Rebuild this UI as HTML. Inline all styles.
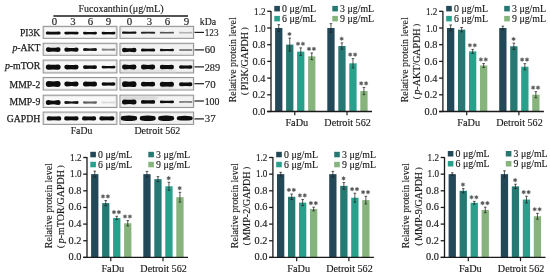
<!DOCTYPE html>
<html><head><meta charset="utf-8"><style>
html,body{margin:0;padding:0;background:#fff;}
svg{display:block;filter:blur(0.3px);}
text{font-family:"Liberation Serif", serif;stroke:#1a1a1a;stroke-width:0.15px;}
text.b{stroke-width:0.25px;}
</style></head><body>
<svg width="550" height="275" viewBox="0 0 550 275">
<defs><filter id="bl2" x="-20%" y="-100%" width="140%" height="300%"><feGaussianBlur stdDeviation="0.8"/></filter><filter id="bl" x="-20%" y="-100%" width="140%" height="300%"><feGaussianBlur stdDeviation="0.45"/></filter></defs>
<rect width="550" height="275" fill="#fff"/>
<text x="78.5" y="11.6" font-size="10.8" text-anchor="start" textLength="49.8" lengthAdjust="spacingAndGlyphs" fill="#1a1a1a" >Fucoxanthin</text>
<text x="129.3" y="11.6" font-size="10.8" text-anchor="start" textLength="34.3" lengthAdjust="spacingAndGlyphs" fill="#1a1a1a" >(μg/mL)</text>
<line x1="53.40" y1="16.00" x2="188.00" y2="16.00" stroke="#1a1a1a" stroke-width="1.3" />
<text x="54.35" y="25.0" font-size="10.8" text-anchor="middle" fill="#1a1a1a" >0</text>
<text x="73.05" y="25.0" font-size="10.8" text-anchor="middle" fill="#1a1a1a" >3</text>
<text x="90.5" y="25.0" font-size="10.8" text-anchor="middle" fill="#1a1a1a" >6</text>
<text x="108.5" y="25.0" font-size="10.8" text-anchor="middle" fill="#1a1a1a" >9</text>
<text x="129.5" y="25.0" font-size="10.8" text-anchor="middle" fill="#1a1a1a" >0</text>
<text x="149.5" y="25.0" font-size="10.8" text-anchor="middle" fill="#1a1a1a" >3</text>
<text x="167.5" y="25.0" font-size="10.8" text-anchor="middle" fill="#1a1a1a" >6</text>
<text x="186.5" y="25.0" font-size="10.8" text-anchor="middle" fill="#1a1a1a" >9</text>
<text x="199.8" y="24.7" font-size="10.8" text-anchor="start" textLength="16.4" lengthAdjust="spacingAndGlyphs" fill="#1a1a1a" >kDa</text>
<text x="40.3" y="35.7" font-size="10.8" text-anchor="end" textLength="20.299999999999997" lengthAdjust="spacingAndGlyphs" fill="#1a1a1a" class="b">PI3K</text>
<rect x="43.20" y="26.35" width="73.70" height="12.00" fill="#f8f8f8" stroke="#959595" stroke-width="1.1"/>
<rect x="44.40" y="27.55" width="71.30" height="9.60" fill="none" stroke="#e2e2e2" stroke-width="0.6"/>
<rect x="120.00" y="26.35" width="73.60" height="12.00" fill="#f2f2f2" stroke="#959595" stroke-width="1.1"/>
<rect x="121.20" y="27.55" width="71.20" height="9.60" fill="none" stroke="#e2e2e2" stroke-width="0.6"/>
<line x1="194.50" y1="32.40" x2="204.00" y2="32.40" stroke="#1a1a1a" stroke-width="1.2" />
<text x="204.7" y="35.7" font-size="10.8" text-anchor="start" textLength="13.8" lengthAdjust="spacingAndGlyphs" fill="#1a1a1a" >123</text>
<text x="40.3" y="51.2" font-size="10.8" text-anchor="end" textLength="27.9" lengthAdjust="spacingAndGlyphs" fill="#1a1a1a" class="b"><tspan font-style="italic">p</tspan>-AKT</text>
<rect x="43.20" y="43.30" width="73.70" height="11.95" fill="#f8f8f8" stroke="#959595" stroke-width="1.1"/>
<rect x="44.40" y="44.50" width="71.30" height="9.55" fill="none" stroke="#e2e2e2" stroke-width="0.6"/>
<rect x="120.00" y="43.30" width="73.60" height="11.95" fill="#f2f2f2" stroke="#959595" stroke-width="1.1"/>
<rect x="121.20" y="44.50" width="71.20" height="9.55" fill="none" stroke="#e2e2e2" stroke-width="0.6"/>
<line x1="194.50" y1="49.90" x2="204.00" y2="49.90" stroke="#1a1a1a" stroke-width="1.2" />
<text x="204.7" y="53.4" font-size="10.8" text-anchor="start" textLength="10.6" lengthAdjust="spacingAndGlyphs" fill="#1a1a1a" >60</text>
<text x="40.3" y="69.4" font-size="10.8" text-anchor="end" textLength="35.4" lengthAdjust="spacingAndGlyphs" fill="#1a1a1a" class="b"><tspan font-style="italic">p</tspan>-mTOR</text>
<rect x="43.20" y="60.10" width="73.70" height="12.80" fill="#f8f8f8" stroke="#959595" stroke-width="1.1"/>
<rect x="44.40" y="61.30" width="71.30" height="10.40" fill="none" stroke="#e2e2e2" stroke-width="0.6"/>
<rect x="120.00" y="60.10" width="73.60" height="12.80" fill="#f2f2f2" stroke="#959595" stroke-width="1.1"/>
<rect x="121.20" y="61.30" width="71.20" height="10.40" fill="none" stroke="#e2e2e2" stroke-width="0.6"/>
<line x1="194.50" y1="66.90" x2="204.00" y2="66.90" stroke="#1a1a1a" stroke-width="1.2" />
<text x="204.7" y="70.5" font-size="10.8" text-anchor="start" textLength="15.4" lengthAdjust="spacingAndGlyphs" fill="#1a1a1a" >289</text>
<text x="40.3" y="87.7" font-size="10.8" text-anchor="end" textLength="30.699999999999996" lengthAdjust="spacingAndGlyphs" fill="#1a1a1a" class="b">MMP-2</text>
<rect x="43.20" y="77.50" width="73.70" height="12.50" fill="#f8f8f8" stroke="#959595" stroke-width="1.1"/>
<rect x="44.40" y="78.70" width="71.30" height="10.10" fill="none" stroke="#e2e2e2" stroke-width="0.6"/>
<rect x="120.00" y="77.50" width="73.60" height="12.50" fill="#f2f2f2" stroke="#959595" stroke-width="1.1"/>
<rect x="121.20" y="78.70" width="71.20" height="10.10" fill="none" stroke="#e2e2e2" stroke-width="0.6"/>
<line x1="194.50" y1="83.70" x2="204.00" y2="83.70" stroke="#1a1a1a" stroke-width="1.2" />
<text x="204.7" y="87.5" font-size="10.8" text-anchor="start" textLength="10.9" lengthAdjust="spacingAndGlyphs" fill="#1a1a1a" >70</text>
<text x="40.3" y="105.0" font-size="10.8" text-anchor="end" textLength="30.699999999999996" lengthAdjust="spacingAndGlyphs" fill="#1a1a1a" class="b">MMP-9</text>
<rect x="43.20" y="95.20" width="73.70" height="12.30" fill="#f8f8f8" stroke="#959595" stroke-width="1.1"/>
<rect x="44.40" y="96.40" width="71.30" height="9.90" fill="none" stroke="#e2e2e2" stroke-width="0.6"/>
<rect x="120.00" y="95.20" width="73.60" height="12.30" fill="#f2f2f2" stroke="#959595" stroke-width="1.1"/>
<rect x="121.20" y="96.40" width="71.20" height="9.90" fill="none" stroke="#e2e2e2" stroke-width="0.6"/>
<line x1="194.50" y1="101.00" x2="204.00" y2="101.00" stroke="#1a1a1a" stroke-width="1.2" />
<text x="204.7" y="104.9" font-size="10.8" text-anchor="start" textLength="14.8" lengthAdjust="spacingAndGlyphs" fill="#1a1a1a" >100</text>
<text x="40.3" y="121.7" font-size="10.8" text-anchor="end" textLength="33.5" lengthAdjust="spacingAndGlyphs" fill="#1a1a1a" class="b">GAPDH</text>
<rect x="43.20" y="112.10" width="73.70" height="12.30" fill="#f8f8f8" stroke="#959595" stroke-width="1.1"/>
<rect x="44.40" y="113.30" width="71.30" height="9.90" fill="none" stroke="#e2e2e2" stroke-width="0.6"/>
<rect x="120.00" y="112.10" width="73.60" height="12.30" fill="#f2f2f2" stroke="#959595" stroke-width="1.1"/>
<rect x="121.20" y="113.30" width="71.20" height="9.90" fill="none" stroke="#e2e2e2" stroke-width="0.6"/>
<line x1="194.50" y1="118.90" x2="204.00" y2="118.90" stroke="#1a1a1a" stroke-width="1.2" />
<text x="204.7" y="122.2" font-size="10.8" text-anchor="start" textLength="10.9" lengthAdjust="spacingAndGlyphs" fill="#1a1a1a" >37</text>
<text x="70.7" y="133.6" font-size="10.8" text-anchor="start" textLength="21.6" lengthAdjust="spacingAndGlyphs" fill="#1a1a1a" >FaDu</text>
<text x="134.4" y="133.6" font-size="10.8" text-anchor="start" textLength="45.8" lengthAdjust="spacingAndGlyphs" fill="#1a1a1a" >Detroit 562</text>
<rect x="122" y="69.4" width="54" height="2.4" rx="1" fill="#dcdcdc" filter="url(#bl2)"/>
<rect x="121.5" y="96.6" width="36" height="3.2" rx="1" fill="#d6d6d6" filter="url(#bl2)"/>
<rect x="47" y="44.8" width="30" height="2.0" rx="1" fill="#e4e4e4" filter="url(#bl2)"/>
<rect x="160" y="87.2" width="14" height="1.6" rx="1" fill="#d0d0d0" filter="url(#bl2)"/>
<path d="M47.30,31.60 Q53.20,32.00 59.10,31.60 A1.50,1.50 0 0 1 59.10,34.60 Q53.20,34.20 47.30,34.60 A1.50,1.50 0 0 1 47.30,31.60Z" fill="rgb(10,10,10)" filter="url(#bl)"/>
<path d="M65.75,31.65 Q71.45,32.05 77.15,31.65 A1.45,1.45 0 0 1 77.15,34.55 Q71.45,34.15 65.75,34.55 A1.45,1.45 0 0 1 65.75,31.65Z" fill="rgb(10,10,10)" filter="url(#bl)"/>
<path d="M84.40,31.70 Q90.00,32.10 95.60,31.70 A1.40,1.40 0 0 1 95.60,34.50 Q90.00,34.10 84.40,34.50 A1.40,1.40 0 0 1 84.40,31.70Z" fill="rgb(10,10,10)" filter="url(#bl)"/>
<path d="M102.95,31.75 Q108.50,32.15 114.05,31.75 A1.35,1.35 0 0 1 114.05,34.45 Q108.50,34.05 102.95,34.45 A1.35,1.35 0 0 1 102.95,31.75Z" fill="rgb(17,17,17)" filter="url(#bl)"/>
<path d="M123.10,31.60 Q129.25,31.90 135.40,31.60 A1.10,1.10 0 0 1 135.40,33.80 Q129.25,33.50 123.10,33.80 A1.10,1.10 0 0 1 123.10,31.60Z" fill="rgb(10,10,10)" filter="url(#bl)"/>
<path d="M141.90,31.70 Q148.05,32.00 154.20,31.70 A1.00,1.00 0 0 1 154.20,33.70 Q148.05,33.40 141.90,33.70 A1.00,1.00 0 0 1 141.90,31.70Z" fill="rgb(39,39,39)" filter="url(#bl)"/>
<path d="M160.70,31.80 Q166.90,32.00 173.10,31.80 A0.90,0.90 0 0 1 173.10,33.60 Q166.90,33.40 160.70,33.60 A0.90,0.90 0 0 1 160.70,31.80Z" fill="rgb(84,84,84)" filter="url(#bl)"/>
<path d="M179.85,31.85 Q185.70,32.05 191.55,31.85 A0.85,0.85 0 0 1 191.55,33.55 Q185.70,33.35 179.85,33.55 A0.85,0.85 0 0 1 179.85,31.85Z" fill="rgb(177,177,177)" filter="url(#bl)"/>
<path d="M48.20,47.20 Q53.20,48.40 58.20,47.20 A2.40,2.40 0 0 1 58.20,52.00 Q53.20,50.80 48.20,52.00 A2.40,2.40 0 0 1 48.20,47.20Z" fill="rgb(10,10,10)" filter="url(#bl)"/>
<path d="M66.50,47.40 Q71.45,48.40 76.40,47.40 A2.20,2.20 0 0 1 76.40,51.80 Q71.45,50.80 66.50,51.80 A2.20,2.20 0 0 1 66.50,47.40Z" fill="rgb(10,10,10)" filter="url(#bl)"/>
<path d="M84.50,48.10 Q90.00,49.00 95.50,48.10 A1.50,1.50 0 0 1 95.50,51.10 Q90.00,50.20 84.50,51.10 A1.50,1.50 0 0 1 84.50,48.10Z" fill="rgb(22,22,22)" filter="url(#bl)"/>
<path d="M102.80,48.40 Q108.50,49.00 114.20,48.40 A1.20,1.20 0 0 1 114.20,50.80 Q108.50,50.20 102.80,50.80 A1.20,1.20 0 0 1 102.80,48.40Z" fill="rgb(132,132,132)" filter="url(#bl)"/>
<path d="M124.20,47.80 Q129.25,48.80 134.30,47.80 A2.20,2.20 0 0 1 134.30,52.20 Q129.25,51.20 124.20,52.20 A2.20,2.20 0 0 1 124.20,47.80Z" fill="rgb(10,10,10)" filter="url(#bl)"/>
<path d="M142.40,48.50 Q148.05,49.10 153.70,48.50 A1.50,1.50 0 0 1 153.70,51.50 Q148.05,50.90 142.40,51.50 A1.50,1.50 0 0 1 142.40,48.50Z" fill="rgb(17,17,17)" filter="url(#bl)"/>
<path d="M161.00,48.80 Q166.90,49.20 172.80,48.80 A1.20,1.20 0 0 1 172.80,51.20 Q166.90,50.80 161.00,51.20 A1.20,1.20 0 0 1 161.00,48.80Z" fill="rgb(22,22,22)" filter="url(#bl)"/>
<path d="M180.10,48.90 Q185.70,49.30 191.30,48.90 A1.10,1.10 0 0 1 191.30,51.10 Q185.70,50.70 180.10,51.10 A1.10,1.10 0 0 1 180.10,48.90Z" fill="rgb(132,132,132)" filter="url(#bl)"/>
<path d="M48.40,64.50 Q53.20,65.10 58.00,64.50 A2.60,2.60 0 0 1 58.00,69.70 Q53.20,69.10 48.40,69.70 A2.60,2.60 0 0 1 48.40,64.50Z" fill="rgb(10,10,10)" filter="url(#bl)"/>
<path d="M66.70,64.70 Q71.45,65.30 76.20,64.70 A2.40,2.40 0 0 1 76.20,69.50 Q71.45,68.90 66.70,69.50 A2.40,2.40 0 0 1 66.70,64.70Z" fill="rgb(10,10,10)" filter="url(#bl)"/>
<path d="M84.90,65.20 Q90.00,65.80 95.10,65.20 A1.90,1.90 0 0 1 95.10,69.00 Q90.00,68.40 84.90,69.00 A1.90,1.90 0 0 1 84.90,65.20Z" fill="rgb(10,10,10)" filter="url(#bl)"/>
<path d="M103.00,65.70 Q108.50,66.10 114.00,65.70 A1.40,1.40 0 0 1 114.00,68.50 Q108.50,68.10 103.00,68.50 A1.40,1.40 0 0 1 103.00,65.70Z" fill="rgb(17,17,17)" filter="url(#bl)"/>
<path d="M124.40,64.60 Q129.25,65.20 134.10,64.60 A2.40,2.40 0 0 1 134.10,69.40 Q129.25,68.80 124.40,69.40 A2.40,2.40 0 0 1 124.40,64.60Z" fill="rgb(10,10,10)" filter="url(#bl)"/>
<path d="M143.30,64.60 Q148.05,65.20 152.80,64.60 A2.40,2.40 0 0 1 152.80,69.40 Q148.05,68.80 143.30,69.40 A2.40,2.40 0 0 1 143.30,64.60Z" fill="rgb(10,10,10)" filter="url(#bl)"/>
<path d="M162.00,64.80 Q166.90,65.40 171.80,64.80 A2.20,2.20 0 0 1 171.80,69.20 Q166.90,68.60 162.00,69.20 A2.20,2.20 0 0 1 162.00,64.80Z" fill="rgb(10,10,10)" filter="url(#bl)"/>
<path d="M180.80,65.20 Q185.70,65.60 190.60,65.20 A1.80,1.80 0 0 1 190.60,68.80 Q185.70,68.40 180.80,68.80 A1.80,1.80 0 0 1 180.80,65.20Z" fill="rgb(10,10,10)" filter="url(#bl)"/>
<path d="M48.80,81.00 Q53.20,81.80 57.60,81.00 A3.00,3.00 0 0 1 57.60,87.00 Q53.20,86.20 48.80,87.00 A3.00,3.00 0 0 1 48.80,81.00Z" fill="rgb(10,10,10)" filter="url(#bl)"/>
<path d="M66.70,81.60 Q71.45,82.20 76.20,81.60 A2.40,2.40 0 0 1 76.20,86.40 Q71.45,85.80 66.70,86.40 A2.40,2.40 0 0 1 66.70,81.60Z" fill="rgb(10,10,10)" filter="url(#bl)"/>
<path d="M85.50,81.50 Q90.00,82.10 94.50,81.50 A2.50,2.50 0 0 1 94.50,86.50 Q90.00,85.90 85.50,86.50 A2.50,2.50 0 0 1 85.50,81.50Z" fill="rgb(10,10,10)" filter="url(#bl)"/>
<path d="M103.30,82.30 Q108.50,82.70 113.70,82.30 A1.70,1.70 0 0 1 113.70,85.70 Q108.50,85.30 103.30,85.70 A1.70,1.70 0 0 1 103.30,82.30Z" fill="rgb(10,10,10)" filter="url(#bl)"/>
<path d="M124.90,81.30 Q129.25,82.10 133.60,81.30 A2.90,2.90 0 0 1 133.60,87.10 Q129.25,86.30 124.90,87.10 A2.90,2.90 0 0 1 124.90,81.30Z" fill="rgb(10,10,10)" filter="url(#bl)"/>
<path d="M143.30,81.80 Q148.05,82.40 152.80,81.80 A2.40,2.40 0 0 1 152.80,86.60 Q148.05,86.00 143.30,86.60 A2.40,2.40 0 0 1 143.30,81.80Z" fill="rgb(10,10,10)" filter="url(#bl)"/>
<path d="M162.30,81.70 Q166.90,82.10 171.50,81.70 A2.50,2.50 0 0 1 171.50,86.70 Q166.90,86.30 162.30,86.70 A2.50,2.50 0 0 1 162.30,81.70Z" fill="rgb(10,10,10)" filter="url(#bl)"/>
<path d="M181.00,82.20 Q185.70,82.60 190.40,82.20 A2.00,2.00 0 0 1 190.40,86.20 Q185.70,85.80 181.00,86.20 A2.00,2.00 0 0 1 181.00,82.20Z" fill="rgb(10,10,10)" filter="url(#bl)"/>
<path d="M48.30,100.00 Q53.20,101.40 58.10,100.00 A2.50,2.50 0 0 1 58.10,105.00 Q53.20,103.60 48.30,105.00 A2.50,2.50 0 0 1 48.30,100.00Z" fill="rgb(10,10,10)" filter="url(#bl)"/>
<path d="M65.70,101.10 Q71.45,101.70 77.20,101.10 A1.40,1.40 0 0 1 77.20,103.90 Q71.45,103.30 65.70,103.90 A1.40,1.40 0 0 1 65.70,101.10Z" fill="rgb(22,22,22)" filter="url(#bl)"/>
<path d="M84.15,101.35 Q90.00,101.75 95.85,101.35 A1.15,1.15 0 0 1 95.85,103.65 Q90.00,103.25 84.15,103.65 A1.15,1.15 0 0 1 84.15,101.35Z" fill="rgb(96,96,96)" filter="url(#bl)"/>
<path d="M102.50,101.60 Q108.50,101.80 114.50,101.60 A0.90,0.90 0 0 1 114.50,103.40 Q108.50,103.20 102.50,103.40 A0.90,0.90 0 0 1 102.50,101.60Z" fill="rgb(218,218,218)" filter="url(#bl)"/>
<path d="M124.50,99.40 Q129.25,100.20 134.00,99.40 A2.50,2.50 0 0 1 134.00,104.40 Q129.25,103.60 124.50,104.40 A2.50,2.50 0 0 1 124.50,99.40Z" fill="rgb(10,10,10)" filter="url(#bl)"/>
<path d="M142.80,100.00 Q148.05,100.60 153.30,100.00 A1.90,1.90 0 0 1 153.30,103.80 Q148.05,103.20 142.80,103.80 A1.90,1.90 0 0 1 142.80,100.00Z" fill="rgb(10,10,10)" filter="url(#bl)"/>
<path d="M161.20,100.50 Q166.90,100.90 172.60,100.50 A1.40,1.40 0 0 1 172.60,103.30 Q166.90,102.90 161.20,103.30 A1.40,1.40 0 0 1 161.20,100.50Z" fill="rgb(17,17,17)" filter="url(#bl)"/>
<path d="M180.00,100.90 Q185.70,101.10 191.40,100.90 A1.00,1.00 0 0 1 191.40,102.90 Q185.70,102.70 180.00,102.90 A1.00,1.00 0 0 1 180.00,100.90Z" fill="rgb(132,132,132)" filter="url(#bl)"/>
<path d="M48.80,116.20 Q53.95,116.80 59.10,116.20 A2.20,2.20 0 0 1 59.10,120.60 Q53.95,120.00 48.80,120.60 A2.20,2.20 0 0 1 48.80,116.20Z" fill="rgb(10,10,10)" filter="url(#bl)"/>
<path d="M66.20,116.30 Q71.35,116.90 76.50,116.30 A2.10,2.10 0 0 1 76.50,120.50 Q71.35,119.90 66.20,120.50 A2.10,2.10 0 0 1 66.20,116.30Z" fill="rgb(10,10,10)" filter="url(#bl)"/>
<path d="M84.10,116.30 Q89.10,116.90 94.10,116.30 A2.10,2.10 0 0 1 94.10,120.50 Q89.10,119.90 84.10,120.50 A2.10,2.10 0 0 1 84.10,116.30Z" fill="rgb(10,10,10)" filter="url(#bl)"/>
<path d="M101.40,116.30 Q106.90,116.90 112.40,116.30 A2.10,2.10 0 0 1 112.40,120.50 Q106.90,119.90 101.40,120.50 A2.10,2.10 0 0 1 101.40,116.30Z" fill="rgb(10,10,10)" filter="url(#bl)"/>
<path d="M123.00,115.90 Q128.95,114.90 134.90,115.90 A2.30,2.30 0 0 1 134.90,120.50 Q128.95,121.50 123.00,120.50 A2.30,2.30 0 0 1 123.00,115.90Z" fill="rgb(10,10,10)" filter="url(#bl)"/>
<path d="M141.90,116.00 Q147.75,115.00 153.60,116.00 A2.20,2.20 0 0 1 153.60,120.40 Q147.75,121.40 141.90,120.40 A2.20,2.20 0 0 1 141.90,116.00Z" fill="rgb(10,10,10)" filter="url(#bl)"/>
<path d="M160.30,116.00 Q166.15,115.00 172.00,116.00 A2.20,2.20 0 0 1 172.00,120.40 Q166.15,121.40 160.30,120.40 A2.20,2.20 0 0 1 160.30,116.00Z" fill="rgb(10,10,10)" filter="url(#bl)"/>
<path d="M178.70,116.20 Q184.70,115.40 190.70,116.20 A2.00,2.00 0 0 1 190.70,120.20 Q184.70,121.00 178.70,120.20 A2.00,2.00 0 0 1 178.70,116.20Z" fill="rgb(10,10,10)" filter="url(#bl)"/>
<rect x="275.10" y="28.00" width="7.30" height="83.50" fill="#234858" />
<line x1="278.75" y1="24.66" x2="278.75" y2="31.34" stroke="#222" stroke-width="0.75" />
<line x1="277.45" y1="24.66" x2="280.05" y2="24.66" stroke="#222" stroke-width="0.75" />
<line x1="277.45" y1="31.34" x2="280.05" y2="31.34" stroke="#222" stroke-width="0.75" />
<rect x="286.10" y="44.62" width="7.30" height="66.88" fill="#267873" />
<line x1="289.75" y1="38.10" x2="289.75" y2="51.13" stroke="#222" stroke-width="0.75" />
<line x1="288.45" y1="38.10" x2="291.05" y2="38.10" stroke="#222" stroke-width="0.75" />
<line x1="288.45" y1="51.13" x2="291.05" y2="51.13" stroke="#222" stroke-width="0.75" />
<polygon points="289.45,31.90 290.08,32.91 291.27,32.95 290.71,34.00 291.27,35.05 290.08,35.09 289.45,36.10 288.82,35.09 287.63,35.05 288.19,34.00 287.63,32.95 288.82,32.91" fill="#5a5a5a" stroke="#6a6a6a" stroke-width="0.35"/>
<rect x="297.10" y="51.63" width="7.30" height="59.87" fill="#28a08c" />
<line x1="300.75" y1="47.87" x2="300.75" y2="55.39" stroke="#222" stroke-width="0.75" />
<line x1="299.45" y1="47.87" x2="302.05" y2="47.87" stroke="#222" stroke-width="0.75" />
<line x1="299.45" y1="55.39" x2="302.05" y2="55.39" stroke="#222" stroke-width="0.75" />
<polygon points="298.00,41.67 298.63,42.68 299.82,42.72 299.26,43.77 299.82,44.82 298.63,44.86 298.00,45.87 297.37,44.86 296.18,44.82 296.74,43.77 296.18,42.72 297.37,42.68" fill="#5a5a5a" stroke="#6a6a6a" stroke-width="0.35"/>
<polygon points="302.90,41.67 303.53,42.68 304.72,42.72 304.16,43.77 304.72,44.82 303.53,44.86 302.90,45.87 302.27,44.86 301.08,44.82 301.64,43.77 301.08,42.72 302.27,42.68" fill="#5a5a5a" stroke="#6a6a6a" stroke-width="0.35"/>
<rect x="308.10" y="56.31" width="7.30" height="55.19" fill="#87b47d" />
<line x1="311.75" y1="52.97" x2="311.75" y2="59.65" stroke="#222" stroke-width="0.75" />
<line x1="310.45" y1="52.97" x2="313.05" y2="52.97" stroke="#222" stroke-width="0.75" />
<line x1="310.45" y1="59.65" x2="313.05" y2="59.65" stroke="#222" stroke-width="0.75" />
<polygon points="309.00,46.77 309.63,47.78 310.82,47.82 310.26,48.87 310.82,49.92 309.63,49.96 309.00,50.97 308.37,49.96 307.18,49.92 307.74,48.87 307.18,47.82 308.37,47.78" fill="#5a5a5a" stroke="#6a6a6a" stroke-width="0.35"/>
<polygon points="313.90,46.77 314.53,47.78 315.72,47.82 315.16,48.87 315.72,49.92 314.53,49.96 313.90,50.97 313.27,49.96 312.08,49.92 312.64,48.87 312.08,47.82 313.27,47.78" fill="#5a5a5a" stroke="#6a6a6a" stroke-width="0.35"/>
<rect x="327.30" y="28.00" width="7.30" height="83.50" fill="#234858" />
<line x1="330.95" y1="23.66" x2="330.95" y2="32.34" stroke="#222" stroke-width="0.75" />
<line x1="329.65" y1="23.66" x2="332.25" y2="23.66" stroke="#222" stroke-width="0.75" />
<line x1="329.65" y1="32.34" x2="332.25" y2="32.34" stroke="#222" stroke-width="0.75" />
<rect x="338.30" y="46.04" width="7.30" height="65.46" fill="#267873" />
<line x1="341.95" y1="42.86" x2="341.95" y2="49.21" stroke="#222" stroke-width="0.75" />
<line x1="340.65" y1="42.86" x2="343.25" y2="42.86" stroke="#222" stroke-width="0.75" />
<line x1="340.65" y1="49.21" x2="343.25" y2="49.21" stroke="#222" stroke-width="0.75" />
<polygon points="341.65,36.66 342.28,37.67 343.47,37.71 342.91,38.76 343.47,39.81 342.28,39.85 341.65,40.86 341.02,39.85 339.83,39.81 340.39,38.76 339.83,37.71 341.02,37.67" fill="#5a5a5a" stroke="#6a6a6a" stroke-width="0.35"/>
<rect x="349.30" y="63.32" width="7.30" height="48.18" fill="#28a08c" />
<line x1="352.95" y1="58.64" x2="352.95" y2="68.00" stroke="#222" stroke-width="0.75" />
<line x1="351.65" y1="58.64" x2="354.25" y2="58.64" stroke="#222" stroke-width="0.75" />
<line x1="351.65" y1="68.00" x2="354.25" y2="68.00" stroke="#222" stroke-width="0.75" />
<polygon points="350.20,52.44 350.83,53.45 352.02,53.49 351.46,54.54 352.02,55.59 350.83,55.64 350.20,56.64 349.57,55.64 348.38,55.59 348.94,54.54 348.38,53.49 349.57,53.45" fill="#5a5a5a" stroke="#6a6a6a" stroke-width="0.35"/>
<polygon points="355.10,52.44 355.73,53.45 356.92,53.49 356.36,54.54 356.92,55.59 355.73,55.64 355.10,56.64 354.47,55.64 353.28,55.59 353.84,54.54 353.28,53.49 354.47,53.45" fill="#5a5a5a" stroke="#6a6a6a" stroke-width="0.35"/>
<rect x="360.30" y="91.04" width="7.30" height="20.46" fill="#87b47d" />
<line x1="363.95" y1="87.45" x2="363.95" y2="94.63" stroke="#222" stroke-width="0.75" />
<line x1="362.65" y1="87.45" x2="365.25" y2="87.45" stroke="#222" stroke-width="0.75" />
<line x1="362.65" y1="94.63" x2="365.25" y2="94.63" stroke="#222" stroke-width="0.75" />
<polygon points="361.20,81.25 361.83,82.26 363.02,82.30 362.46,83.35 363.02,84.40 361.83,84.44 361.20,85.45 360.57,84.44 359.38,84.40 359.94,83.35 359.38,82.30 360.57,82.26" fill="#5a5a5a" stroke="#6a6a6a" stroke-width="0.35"/>
<polygon points="366.10,81.25 366.73,82.26 367.92,82.30 367.36,83.35 367.92,84.40 366.73,84.44 366.10,85.45 365.47,84.44 364.28,84.40 364.84,83.35 364.28,82.30 365.47,82.26" fill="#5a5a5a" stroke="#6a6a6a" stroke-width="0.35"/>
<line x1="271.00" y1="10.90" x2="271.00" y2="112.10" stroke="#1a1a1a" stroke-width="1.3" />
<line x1="267.20" y1="111.50" x2="372.00" y2="111.50" stroke="#1a1a1a" stroke-width="1.3" />
<line x1="267.20" y1="111.50" x2="271.00" y2="111.50" stroke="#1a1a1a" stroke-width="1.3" />
<text x="265.5" y="115.1" font-size="10.8" text-anchor="end" textLength="12.9" lengthAdjust="spacingAndGlyphs" fill="#1a1a1a" >0.0</text>
<line x1="267.20" y1="94.80" x2="271.00" y2="94.80" stroke="#1a1a1a" stroke-width="1.3" />
<text x="265.5" y="98.39999999999999" font-size="10.8" text-anchor="end" textLength="12.9" lengthAdjust="spacingAndGlyphs" fill="#1a1a1a" >0.2</text>
<line x1="267.20" y1="78.10" x2="271.00" y2="78.10" stroke="#1a1a1a" stroke-width="1.3" />
<text x="265.5" y="81.69999999999999" font-size="10.8" text-anchor="end" textLength="12.9" lengthAdjust="spacingAndGlyphs" fill="#1a1a1a" >0.4</text>
<line x1="267.20" y1="61.40" x2="271.00" y2="61.40" stroke="#1a1a1a" stroke-width="1.3" />
<text x="265.5" y="64.99999999999999" font-size="10.8" text-anchor="end" textLength="12.9" lengthAdjust="spacingAndGlyphs" fill="#1a1a1a" >0.6</text>
<line x1="267.20" y1="44.70" x2="271.00" y2="44.70" stroke="#1a1a1a" stroke-width="1.3" />
<text x="265.5" y="48.300000000000004" font-size="10.8" text-anchor="end" textLength="12.9" lengthAdjust="spacingAndGlyphs" fill="#1a1a1a" >0.8</text>
<line x1="267.20" y1="28.00" x2="271.00" y2="28.00" stroke="#1a1a1a" stroke-width="1.3" />
<text x="265.5" y="31.6" font-size="10.8" text-anchor="end" textLength="11.4" lengthAdjust="spacingAndGlyphs" fill="#1a1a1a" >1.0</text>
<line x1="267.20" y1="11.30" x2="271.00" y2="11.30" stroke="#1a1a1a" stroke-width="1.3" />
<text x="265.5" y="14.899999999999983" font-size="10.8" text-anchor="end" textLength="11.4" lengthAdjust="spacingAndGlyphs" fill="#1a1a1a" >1.2</text>
<line x1="294.80" y1="111.50" x2="294.80" y2="115.30" stroke="#1a1a1a" stroke-width="1.2" />
<line x1="347.00" y1="111.50" x2="347.00" y2="115.30" stroke="#1a1a1a" stroke-width="1.2" />
<text x="296.8" y="126.0" font-size="10.8" text-anchor="middle" textLength="22.8" lengthAdjust="spacingAndGlyphs" fill="#1a1a1a" >FaDu</text>
<text x="347.6" y="126.0" font-size="10.8" text-anchor="middle" textLength="46.5" lengthAdjust="spacingAndGlyphs" fill="#1a1a1a" >Detroit 562</text>
<rect x="274.30" y="5.90" width="5.60" height="5.50" fill="#234858" />
<text x="282.1" y="11.900000000000006" font-size="10.8" text-anchor="start" textLength="34" lengthAdjust="spacingAndGlyphs" fill="#1a1a1a" >0 μg/mL</text>
<rect x="332.30" y="5.90" width="5.60" height="5.50" fill="#267873" />
<text x="340.1" y="11.900000000000006" font-size="10.8" text-anchor="start" textLength="34" lengthAdjust="spacingAndGlyphs" fill="#1a1a1a" >3 μg/mL</text>
<rect x="274.30" y="15.90" width="5.60" height="5.50" fill="#28a08c" />
<text x="282.1" y="21.900000000000006" font-size="10.8" text-anchor="start" textLength="34" lengthAdjust="spacingAndGlyphs" fill="#1a1a1a" >6 μg/mL</text>
<rect x="332.30" y="15.90" width="5.60" height="5.50" fill="#87b47d" />
<text x="340.1" y="21.900000000000006" font-size="10.8" text-anchor="start" textLength="34" lengthAdjust="spacingAndGlyphs" fill="#1a1a1a" >9 μg/mL</text>
<text transform="translate(235.60,102.30) rotate(-90)" font-size="10" textLength="85" lengthAdjust="spacingAndGlyphs" fill="#1a1a1a">Relative protein level</text>
<text transform="translate(248.00,95.00) rotate(-90)" font-size="10" fill="#1a1a1a"><tspan font-size="8" dy="-0.6">(</tspan><tspan dx="2.0" dy="0.6">PI3K/GAPDH</tspan><tspan dx="2.0" font-size="8" dy="-0.6">)</tspan></text>
<rect x="447.00" y="28.00" width="7.30" height="83.50" fill="#234858" />
<line x1="450.65" y1="24.99" x2="450.65" y2="31.01" stroke="#222" stroke-width="0.75" />
<line x1="449.35" y1="24.99" x2="451.95" y2="24.99" stroke="#222" stroke-width="0.75" />
<line x1="449.35" y1="31.01" x2="451.95" y2="31.01" stroke="#222" stroke-width="0.75" />
<rect x="458.00" y="29.67" width="7.30" height="81.83" fill="#267873" />
<line x1="461.65" y1="27.50" x2="461.65" y2="31.84" stroke="#222" stroke-width="0.75" />
<line x1="460.35" y1="27.50" x2="462.95" y2="27.50" stroke="#222" stroke-width="0.75" />
<line x1="460.35" y1="31.84" x2="462.95" y2="31.84" stroke="#222" stroke-width="0.75" />
<rect x="469.00" y="51.38" width="7.30" height="60.12" fill="#28a08c" />
<line x1="472.65" y1="49.38" x2="472.65" y2="53.38" stroke="#222" stroke-width="0.75" />
<line x1="471.35" y1="49.38" x2="473.95" y2="49.38" stroke="#222" stroke-width="0.75" />
<line x1="471.35" y1="53.38" x2="473.95" y2="53.38" stroke="#222" stroke-width="0.75" />
<polygon points="469.90,43.18 470.53,44.18 471.72,44.23 471.16,45.28 471.72,46.33 470.53,46.37 469.90,47.38 469.27,46.37 468.08,46.33 468.64,45.28 468.08,44.23 469.27,44.18" fill="#5a5a5a" stroke="#6a6a6a" stroke-width="0.35"/>
<polygon points="474.80,43.18 475.43,44.18 476.62,44.23 476.06,45.28 476.62,46.33 475.43,46.37 474.80,47.38 474.17,46.37 472.98,46.33 473.54,45.28 472.98,44.23 474.17,44.18" fill="#5a5a5a" stroke="#6a6a6a" stroke-width="0.35"/>
<rect x="480.00" y="65.49" width="7.30" height="46.01" fill="#87b47d" />
<line x1="483.65" y1="63.57" x2="483.65" y2="67.41" stroke="#222" stroke-width="0.75" />
<line x1="482.35" y1="63.57" x2="484.95" y2="63.57" stroke="#222" stroke-width="0.75" />
<line x1="482.35" y1="67.41" x2="484.95" y2="67.41" stroke="#222" stroke-width="0.75" />
<polygon points="480.90,57.37 481.53,58.38 482.72,58.42 482.16,59.47 482.72,60.52 481.53,60.56 480.90,61.57 480.27,60.56 479.08,60.52 479.64,59.47 479.08,58.42 480.27,58.38" fill="#5a5a5a" stroke="#6a6a6a" stroke-width="0.35"/>
<polygon points="485.80,57.37 486.43,58.38 487.62,58.42 487.06,59.47 487.62,60.52 486.43,60.56 485.80,61.57 485.17,60.56 483.98,60.52 484.54,59.47 483.98,58.42 485.17,58.38" fill="#5a5a5a" stroke="#6a6a6a" stroke-width="0.35"/>
<rect x="499.20" y="28.00" width="7.30" height="83.50" fill="#234858" />
<line x1="502.85" y1="26.16" x2="502.85" y2="29.84" stroke="#222" stroke-width="0.75" />
<line x1="501.55" y1="26.16" x2="504.15" y2="26.16" stroke="#222" stroke-width="0.75" />
<line x1="501.55" y1="29.84" x2="504.15" y2="29.84" stroke="#222" stroke-width="0.75" />
<rect x="510.20" y="46.29" width="7.30" height="65.21" fill="#267873" />
<line x1="513.85" y1="43.11" x2="513.85" y2="49.46" stroke="#222" stroke-width="0.75" />
<line x1="512.55" y1="43.11" x2="515.15" y2="43.11" stroke="#222" stroke-width="0.75" />
<line x1="512.55" y1="49.46" x2="515.15" y2="49.46" stroke="#222" stroke-width="0.75" />
<polygon points="513.55,36.91 514.18,37.92 515.37,37.96 514.81,39.01 515.37,40.06 514.18,40.10 513.55,41.11 512.92,40.10 511.73,40.06 512.29,39.01 511.73,37.96 512.92,37.92" fill="#5a5a5a" stroke="#6a6a6a" stroke-width="0.35"/>
<rect x="521.20" y="66.74" width="7.30" height="44.76" fill="#28a08c" />
<line x1="524.85" y1="63.65" x2="524.85" y2="69.83" stroke="#222" stroke-width="0.75" />
<line x1="523.55" y1="63.65" x2="526.15" y2="63.65" stroke="#222" stroke-width="0.75" />
<line x1="523.55" y1="69.83" x2="526.15" y2="69.83" stroke="#222" stroke-width="0.75" />
<polygon points="522.10,57.45 522.73,58.46 523.92,58.50 523.36,59.55 523.92,60.60 522.73,60.65 522.10,61.65 521.47,60.65 520.28,60.60 520.84,59.55 520.28,58.50 521.47,58.46" fill="#5a5a5a" stroke="#6a6a6a" stroke-width="0.35"/>
<polygon points="527.00,57.45 527.63,58.46 528.82,58.50 528.26,59.55 528.82,60.60 527.63,60.65 527.00,61.65 526.37,60.65 525.18,60.60 525.74,59.55 525.18,58.50 526.37,58.46" fill="#5a5a5a" stroke="#6a6a6a" stroke-width="0.35"/>
<rect x="532.20" y="94.72" width="7.30" height="16.78" fill="#87b47d" />
<line x1="535.85" y1="91.71" x2="535.85" y2="97.72" stroke="#222" stroke-width="0.75" />
<line x1="534.55" y1="91.71" x2="537.15" y2="91.71" stroke="#222" stroke-width="0.75" />
<line x1="534.55" y1="97.72" x2="537.15" y2="97.72" stroke="#222" stroke-width="0.75" />
<polygon points="533.10,85.51 533.73,86.52 534.92,86.56 534.36,87.61 534.92,88.66 533.73,88.70 533.10,89.71 532.47,88.70 531.28,88.66 531.84,87.61 531.28,86.56 532.47,86.52" fill="#5a5a5a" stroke="#6a6a6a" stroke-width="0.35"/>
<polygon points="538.00,85.51 538.63,86.52 539.82,86.56 539.26,87.61 539.82,88.66 538.63,88.70 538.00,89.71 537.37,88.70 536.18,88.66 536.74,87.61 536.18,86.56 537.37,86.52" fill="#5a5a5a" stroke="#6a6a6a" stroke-width="0.35"/>
<line x1="442.90" y1="10.90" x2="442.90" y2="112.10" stroke="#1a1a1a" stroke-width="1.3" />
<line x1="439.10" y1="111.50" x2="543.90" y2="111.50" stroke="#1a1a1a" stroke-width="1.3" />
<line x1="439.10" y1="111.50" x2="442.90" y2="111.50" stroke="#1a1a1a" stroke-width="1.3" />
<text x="437.4" y="115.1" font-size="10.8" text-anchor="end" textLength="12.9" lengthAdjust="spacingAndGlyphs" fill="#1a1a1a" >0.0</text>
<line x1="439.10" y1="94.80" x2="442.90" y2="94.80" stroke="#1a1a1a" stroke-width="1.3" />
<text x="437.4" y="98.39999999999999" font-size="10.8" text-anchor="end" textLength="12.9" lengthAdjust="spacingAndGlyphs" fill="#1a1a1a" >0.2</text>
<line x1="439.10" y1="78.10" x2="442.90" y2="78.10" stroke="#1a1a1a" stroke-width="1.3" />
<text x="437.4" y="81.69999999999999" font-size="10.8" text-anchor="end" textLength="12.9" lengthAdjust="spacingAndGlyphs" fill="#1a1a1a" >0.4</text>
<line x1="439.10" y1="61.40" x2="442.90" y2="61.40" stroke="#1a1a1a" stroke-width="1.3" />
<text x="437.4" y="64.99999999999999" font-size="10.8" text-anchor="end" textLength="12.9" lengthAdjust="spacingAndGlyphs" fill="#1a1a1a" >0.6</text>
<line x1="439.10" y1="44.70" x2="442.90" y2="44.70" stroke="#1a1a1a" stroke-width="1.3" />
<text x="437.4" y="48.300000000000004" font-size="10.8" text-anchor="end" textLength="12.9" lengthAdjust="spacingAndGlyphs" fill="#1a1a1a" >0.8</text>
<line x1="439.10" y1="28.00" x2="442.90" y2="28.00" stroke="#1a1a1a" stroke-width="1.3" />
<text x="437.4" y="31.6" font-size="10.8" text-anchor="end" textLength="11.4" lengthAdjust="spacingAndGlyphs" fill="#1a1a1a" >1.0</text>
<line x1="439.10" y1="11.30" x2="442.90" y2="11.30" stroke="#1a1a1a" stroke-width="1.3" />
<text x="437.4" y="14.899999999999983" font-size="10.8" text-anchor="end" textLength="11.4" lengthAdjust="spacingAndGlyphs" fill="#1a1a1a" >1.2</text>
<line x1="466.70" y1="111.50" x2="466.70" y2="115.30" stroke="#1a1a1a" stroke-width="1.2" />
<line x1="518.90" y1="111.50" x2="518.90" y2="115.30" stroke="#1a1a1a" stroke-width="1.2" />
<text x="468.7" y="126.0" font-size="10.8" text-anchor="middle" textLength="22.8" lengthAdjust="spacingAndGlyphs" fill="#1a1a1a" >FaDu</text>
<text x="519.5" y="126.0" font-size="10.8" text-anchor="middle" textLength="46.5" lengthAdjust="spacingAndGlyphs" fill="#1a1a1a" >Detroit 562</text>
<rect x="446.20" y="5.90" width="5.60" height="5.50" fill="#234858" />
<text x="454.0" y="11.900000000000006" font-size="10.8" text-anchor="start" textLength="34" lengthAdjust="spacingAndGlyphs" fill="#1a1a1a" >0 μg/mL</text>
<rect x="504.20" y="5.90" width="5.60" height="5.50" fill="#267873" />
<text x="512.0" y="11.900000000000006" font-size="10.8" text-anchor="start" textLength="34" lengthAdjust="spacingAndGlyphs" fill="#1a1a1a" >3 μg/mL</text>
<rect x="446.20" y="15.90" width="5.60" height="5.50" fill="#28a08c" />
<text x="454.0" y="21.900000000000006" font-size="10.8" text-anchor="start" textLength="34" lengthAdjust="spacingAndGlyphs" fill="#1a1a1a" >6 μg/mL</text>
<rect x="504.20" y="15.90" width="5.60" height="5.50" fill="#87b47d" />
<text x="512.0" y="21.900000000000006" font-size="10.8" text-anchor="start" textLength="34" lengthAdjust="spacingAndGlyphs" fill="#1a1a1a" >9 μg/mL</text>
<text transform="translate(407.50,102.30) rotate(-90)" font-size="10" textLength="85" lengthAdjust="spacingAndGlyphs" fill="#1a1a1a">Relative protein level</text>
<text transform="translate(419.90,99.20) rotate(-90)" font-size="10" fill="#1a1a1a"><tspan font-size="8" dy="-0.6">(</tspan><tspan dx="2.0" dy="0.6"><tspan font-style="italic">p</tspan>-AKT/GAPDH</tspan><tspan dx="2.0" font-size="8" dy="-0.6">)</tspan></text>
<rect x="91.10" y="174.15" width="7.30" height="83.25" fill="#234858" />
<line x1="94.75" y1="171.15" x2="94.75" y2="177.15" stroke="#222" stroke-width="0.75" />
<line x1="93.45" y1="171.15" x2="96.05" y2="171.15" stroke="#222" stroke-width="0.75" />
<line x1="93.45" y1="177.15" x2="96.05" y2="177.15" stroke="#222" stroke-width="0.75" />
<rect x="102.10" y="203.12" width="7.30" height="54.28" fill="#267873" />
<line x1="105.75" y1="200.54" x2="105.75" y2="205.70" stroke="#222" stroke-width="0.75" />
<line x1="104.45" y1="200.54" x2="107.05" y2="200.54" stroke="#222" stroke-width="0.75" />
<line x1="104.45" y1="205.70" x2="107.05" y2="205.70" stroke="#222" stroke-width="0.75" />
<polygon points="103.00,194.34 103.63,195.35 104.82,195.39 104.26,196.44 104.82,197.49 103.63,197.53 103.00,198.54 102.37,197.53 101.18,197.49 101.74,196.44 101.18,195.39 102.37,195.35" fill="#5a5a5a" stroke="#6a6a6a" stroke-width="0.35"/>
<polygon points="107.90,194.34 108.53,195.35 109.72,195.39 109.16,196.44 109.72,197.49 108.53,197.53 107.90,198.54 107.27,197.53 106.08,197.49 106.64,196.44 106.08,195.39 107.27,195.35" fill="#5a5a5a" stroke="#6a6a6a" stroke-width="0.35"/>
<rect x="113.10" y="217.94" width="7.30" height="39.46" fill="#28a08c" />
<line x1="116.75" y1="216.27" x2="116.75" y2="219.60" stroke="#222" stroke-width="0.75" />
<line x1="115.45" y1="216.27" x2="118.05" y2="216.27" stroke="#222" stroke-width="0.75" />
<line x1="115.45" y1="219.60" x2="118.05" y2="219.60" stroke="#222" stroke-width="0.75" />
<polygon points="114.00,210.07 114.63,211.08 115.82,211.12 115.26,212.17 115.82,213.22 114.63,213.27 114.00,214.27 113.37,213.27 112.18,213.22 112.74,212.17 112.18,211.12 113.37,211.08" fill="#5a5a5a" stroke="#6a6a6a" stroke-width="0.35"/>
<polygon points="118.90,210.07 119.53,211.08 120.72,211.12 120.16,212.17 120.72,213.22 119.53,213.27 118.90,214.27 118.27,213.27 117.08,213.22 117.64,212.17 117.08,211.12 118.27,211.08" fill="#5a5a5a" stroke="#6a6a6a" stroke-width="0.35"/>
<rect x="124.10" y="223.27" width="7.30" height="34.13" fill="#87b47d" />
<line x1="127.75" y1="220.60" x2="127.75" y2="225.93" stroke="#222" stroke-width="0.75" />
<line x1="126.45" y1="220.60" x2="129.05" y2="220.60" stroke="#222" stroke-width="0.75" />
<line x1="126.45" y1="225.93" x2="129.05" y2="225.93" stroke="#222" stroke-width="0.75" />
<polygon points="125.00,214.40 125.63,215.41 126.82,215.45 126.26,216.50 126.82,217.55 125.63,217.59 125.00,218.60 124.37,217.59 123.18,217.55 123.74,216.50 123.18,215.45 124.37,215.41" fill="#5a5a5a" stroke="#6a6a6a" stroke-width="0.35"/>
<polygon points="129.90,214.40 130.53,215.41 131.72,215.45 131.16,216.50 131.72,217.55 130.53,217.59 129.90,218.60 129.27,217.59 128.08,217.55 128.64,216.50 128.08,215.45 129.27,215.41" fill="#5a5a5a" stroke="#6a6a6a" stroke-width="0.35"/>
<rect x="143.30" y="174.15" width="7.30" height="83.25" fill="#234858" />
<line x1="146.95" y1="171.40" x2="146.95" y2="176.90" stroke="#222" stroke-width="0.75" />
<line x1="145.65" y1="171.40" x2="148.25" y2="171.40" stroke="#222" stroke-width="0.75" />
<line x1="145.65" y1="176.90" x2="148.25" y2="176.90" stroke="#222" stroke-width="0.75" />
<rect x="154.30" y="179.14" width="7.30" height="78.25" fill="#267873" />
<line x1="157.95" y1="176.65" x2="157.95" y2="181.64" stroke="#222" stroke-width="0.75" />
<line x1="156.65" y1="176.65" x2="159.25" y2="176.65" stroke="#222" stroke-width="0.75" />
<line x1="156.65" y1="181.64" x2="159.25" y2="181.64" stroke="#222" stroke-width="0.75" />
<rect x="165.30" y="186.30" width="7.30" height="71.10" fill="#28a08c" />
<line x1="168.95" y1="182.31" x2="168.95" y2="190.30" stroke="#222" stroke-width="0.75" />
<line x1="167.65" y1="182.31" x2="170.25" y2="182.31" stroke="#222" stroke-width="0.75" />
<line x1="167.65" y1="190.30" x2="170.25" y2="190.30" stroke="#222" stroke-width="0.75" />
<polygon points="168.65,176.11 169.28,177.12 170.47,177.16 169.91,178.21 170.47,179.26 169.28,179.30 168.65,180.31 168.02,179.30 166.83,179.26 167.39,178.21 166.83,177.16 168.02,177.12" fill="#5a5a5a" stroke="#6a6a6a" stroke-width="0.35"/>
<rect x="176.30" y="197.21" width="7.30" height="60.19" fill="#87b47d" />
<line x1="179.95" y1="192.30" x2="179.95" y2="202.12" stroke="#222" stroke-width="0.75" />
<line x1="178.65" y1="192.30" x2="181.25" y2="192.30" stroke="#222" stroke-width="0.75" />
<line x1="178.65" y1="202.12" x2="181.25" y2="202.12" stroke="#222" stroke-width="0.75" />
<polygon points="179.65,186.10 180.28,187.11 181.47,187.15 180.91,188.20 181.47,189.25 180.28,189.29 179.65,190.30 179.02,189.29 177.83,189.25 178.39,188.20 177.83,187.15 179.02,187.11" fill="#5a5a5a" stroke="#6a6a6a" stroke-width="0.35"/>
<line x1="87.00" y1="157.10" x2="87.00" y2="258.00" stroke="#1a1a1a" stroke-width="1.3" />
<line x1="83.20" y1="257.40" x2="188.00" y2="257.40" stroke="#1a1a1a" stroke-width="1.3" />
<line x1="83.20" y1="257.40" x2="87.00" y2="257.40" stroke="#1a1a1a" stroke-width="1.3" />
<text x="81.5" y="260.4" font-size="10.8" text-anchor="end" textLength="12.9" lengthAdjust="spacingAndGlyphs" fill="#1a1a1a" >0.0</text>
<line x1="83.20" y1="240.75" x2="87.00" y2="240.75" stroke="#1a1a1a" stroke-width="1.3" />
<text x="81.5" y="243.74999999999997" font-size="10.8" text-anchor="end" textLength="12.9" lengthAdjust="spacingAndGlyphs" fill="#1a1a1a" >0.2</text>
<line x1="83.20" y1="224.10" x2="87.00" y2="224.10" stroke="#1a1a1a" stroke-width="1.3" />
<text x="81.5" y="227.09999999999997" font-size="10.8" text-anchor="end" textLength="12.9" lengthAdjust="spacingAndGlyphs" fill="#1a1a1a" >0.4</text>
<line x1="83.20" y1="207.45" x2="87.00" y2="207.45" stroke="#1a1a1a" stroke-width="1.3" />
<text x="81.5" y="210.44999999999996" font-size="10.8" text-anchor="end" textLength="12.9" lengthAdjust="spacingAndGlyphs" fill="#1a1a1a" >0.6</text>
<line x1="83.20" y1="190.80" x2="87.00" y2="190.80" stroke="#1a1a1a" stroke-width="1.3" />
<text x="81.5" y="193.79999999999995" font-size="10.8" text-anchor="end" textLength="12.9" lengthAdjust="spacingAndGlyphs" fill="#1a1a1a" >0.8</text>
<line x1="83.20" y1="174.15" x2="87.00" y2="174.15" stroke="#1a1a1a" stroke-width="1.3" />
<text x="81.5" y="177.14999999999998" font-size="10.8" text-anchor="end" textLength="11.4" lengthAdjust="spacingAndGlyphs" fill="#1a1a1a" >1.0</text>
<line x1="83.20" y1="157.50" x2="87.00" y2="157.50" stroke="#1a1a1a" stroke-width="1.3" />
<text x="81.5" y="160.49999999999994" font-size="10.8" text-anchor="end" textLength="11.4" lengthAdjust="spacingAndGlyphs" fill="#1a1a1a" >1.2</text>
<line x1="110.80" y1="257.40" x2="110.80" y2="261.20" stroke="#1a1a1a" stroke-width="1.2" />
<line x1="163.00" y1="257.40" x2="163.00" y2="261.20" stroke="#1a1a1a" stroke-width="1.2" />
<text x="112.8" y="271.9" font-size="10.8" text-anchor="middle" textLength="22.8" lengthAdjust="spacingAndGlyphs" fill="#1a1a1a" >FaDu</text>
<text x="163.6" y="271.9" font-size="10.8" text-anchor="middle" textLength="46.5" lengthAdjust="spacingAndGlyphs" fill="#1a1a1a" >Detroit 562</text>
<rect x="90.30" y="151.80" width="5.60" height="5.50" fill="#234858" />
<text x="98.1" y="157.79999999999998" font-size="10.8" text-anchor="start" textLength="34" lengthAdjust="spacingAndGlyphs" fill="#1a1a1a" >0 μg/mL</text>
<rect x="148.30" y="151.80" width="5.60" height="5.50" fill="#267873" />
<text x="156.10000000000002" y="157.79999999999998" font-size="10.8" text-anchor="start" textLength="34" lengthAdjust="spacingAndGlyphs" fill="#1a1a1a" >3 μg/mL</text>
<rect x="90.30" y="161.80" width="5.60" height="5.50" fill="#28a08c" />
<text x="98.1" y="167.79999999999998" font-size="10.8" text-anchor="start" textLength="34" lengthAdjust="spacingAndGlyphs" fill="#1a1a1a" >6 μg/mL</text>
<rect x="148.30" y="161.80" width="5.60" height="5.50" fill="#87b47d" />
<text x="156.10000000000002" y="167.79999999999998" font-size="10.8" text-anchor="start" textLength="34" lengthAdjust="spacingAndGlyphs" fill="#1a1a1a" >9 μg/mL</text>
<text transform="translate(51.60,248.20) rotate(-90)" font-size="10" textLength="85" lengthAdjust="spacingAndGlyphs" fill="#1a1a1a">Relative protein level</text>
<text transform="translate(64.00,247.90) rotate(-90)" font-size="10" fill="#1a1a1a"><tspan font-size="8" dy="-0.6">(</tspan><tspan dx="2.0" dy="0.6"><tspan font-style="italic">p</tspan>-mTOR/GAPDH</tspan><tspan dx="2.0" font-size="8" dy="-0.6">)</tspan></text>
<rect x="277.00" y="174.15" width="7.30" height="83.25" fill="#234858" />
<line x1="280.65" y1="172.32" x2="280.65" y2="175.98" stroke="#222" stroke-width="0.75" />
<line x1="279.35" y1="172.32" x2="281.95" y2="172.32" stroke="#222" stroke-width="0.75" />
<line x1="279.35" y1="175.98" x2="281.95" y2="175.98" stroke="#222" stroke-width="0.75" />
<rect x="288.00" y="196.79" width="7.30" height="60.61" fill="#267873" />
<line x1="291.65" y1="194.05" x2="291.65" y2="199.54" stroke="#222" stroke-width="0.75" />
<line x1="290.35" y1="194.05" x2="292.95" y2="194.05" stroke="#222" stroke-width="0.75" />
<line x1="290.35" y1="199.54" x2="292.95" y2="199.54" stroke="#222" stroke-width="0.75" />
<polygon points="288.90,187.85 289.53,188.86 290.72,188.90 290.16,189.95 290.72,191.00 289.53,191.04 288.90,192.05 288.27,191.04 287.08,191.00 287.64,189.95 287.08,188.90 288.27,188.86" fill="#5a5a5a" stroke="#6a6a6a" stroke-width="0.35"/>
<polygon points="293.80,187.85 294.43,188.86 295.62,188.90 295.06,189.95 295.62,191.00 294.43,191.04 293.80,192.05 293.17,191.04 291.98,191.00 292.54,189.95 291.98,188.90 293.17,188.86" fill="#5a5a5a" stroke="#6a6a6a" stroke-width="0.35"/>
<rect x="299.00" y="202.62" width="7.30" height="54.78" fill="#28a08c" />
<line x1="302.65" y1="199.54" x2="302.65" y2="205.70" stroke="#222" stroke-width="0.75" />
<line x1="301.35" y1="199.54" x2="303.95" y2="199.54" stroke="#222" stroke-width="0.75" />
<line x1="301.35" y1="205.70" x2="303.95" y2="205.70" stroke="#222" stroke-width="0.75" />
<polygon points="299.90,193.34 300.53,194.35 301.72,194.39 301.16,195.44 301.72,196.49 300.53,196.53 299.90,197.54 299.27,196.53 298.08,196.49 298.64,195.44 298.08,194.39 299.27,194.35" fill="#5a5a5a" stroke="#6a6a6a" stroke-width="0.35"/>
<polygon points="304.80,193.34 305.43,194.35 306.62,194.39 306.06,195.44 306.62,196.49 305.43,196.53 304.80,197.54 304.17,196.53 302.98,196.49 303.54,195.44 302.98,194.39 304.17,194.35" fill="#5a5a5a" stroke="#6a6a6a" stroke-width="0.35"/>
<rect x="310.00" y="209.03" width="7.30" height="48.37" fill="#87b47d" />
<line x1="313.65" y1="207.20" x2="313.65" y2="210.86" stroke="#222" stroke-width="0.75" />
<line x1="312.35" y1="207.20" x2="314.95" y2="207.20" stroke="#222" stroke-width="0.75" />
<line x1="312.35" y1="210.86" x2="314.95" y2="210.86" stroke="#222" stroke-width="0.75" />
<polygon points="310.90,201.00 311.53,202.01 312.72,202.05 312.16,203.10 312.72,204.15 311.53,204.19 310.90,205.20 310.27,204.19 309.08,204.15 309.64,203.10 309.08,202.05 310.27,202.01" fill="#5a5a5a" stroke="#6a6a6a" stroke-width="0.35"/>
<polygon points="315.80,201.00 316.43,202.01 317.62,202.05 317.06,203.10 317.62,204.15 316.43,204.19 315.80,205.20 315.17,204.19 313.98,204.15 314.54,203.10 313.98,202.05 315.17,202.01" fill="#5a5a5a" stroke="#6a6a6a" stroke-width="0.35"/>
<rect x="329.20" y="174.15" width="7.30" height="83.25" fill="#234858" />
<line x1="332.85" y1="171.40" x2="332.85" y2="176.90" stroke="#222" stroke-width="0.75" />
<line x1="331.55" y1="171.40" x2="334.15" y2="171.40" stroke="#222" stroke-width="0.75" />
<line x1="331.55" y1="176.90" x2="334.15" y2="176.90" stroke="#222" stroke-width="0.75" />
<rect x="340.20" y="185.89" width="7.30" height="71.51" fill="#267873" />
<line x1="343.85" y1="182.56" x2="343.85" y2="189.22" stroke="#222" stroke-width="0.75" />
<line x1="342.55" y1="182.56" x2="345.15" y2="182.56" stroke="#222" stroke-width="0.75" />
<line x1="342.55" y1="189.22" x2="345.15" y2="189.22" stroke="#222" stroke-width="0.75" />
<polygon points="343.55,176.36 344.18,177.37 345.37,177.41 344.81,178.46 345.37,179.51 344.18,179.55 343.55,180.56 342.92,179.55 341.73,179.51 342.29,178.46 341.73,177.41 342.92,177.37" fill="#5a5a5a" stroke="#6a6a6a" stroke-width="0.35"/>
<rect x="351.20" y="197.71" width="7.30" height="59.69" fill="#28a08c" />
<line x1="354.85" y1="193.21" x2="354.85" y2="202.21" stroke="#222" stroke-width="0.75" />
<line x1="353.55" y1="193.21" x2="356.15" y2="193.21" stroke="#222" stroke-width="0.75" />
<line x1="353.55" y1="202.21" x2="356.15" y2="202.21" stroke="#222" stroke-width="0.75" />
<polygon points="352.10,187.01 352.73,188.02 353.92,188.06 353.36,189.11 353.92,190.16 352.73,190.21 352.10,191.21 351.47,190.21 350.28,190.16 350.84,189.11 350.28,188.06 351.47,188.02" fill="#5a5a5a" stroke="#6a6a6a" stroke-width="0.35"/>
<polygon points="357.00,187.01 357.63,188.02 358.82,188.06 358.26,189.11 358.82,190.16 357.63,190.21 357.00,191.21 356.37,190.21 355.18,190.16 355.74,189.11 355.18,188.06 356.37,188.02" fill="#5a5a5a" stroke="#6a6a6a" stroke-width="0.35"/>
<rect x="362.20" y="200.12" width="7.30" height="57.28" fill="#87b47d" />
<line x1="365.85" y1="196.29" x2="365.85" y2="203.95" stroke="#222" stroke-width="0.75" />
<line x1="364.55" y1="196.29" x2="367.15" y2="196.29" stroke="#222" stroke-width="0.75" />
<line x1="364.55" y1="203.95" x2="367.15" y2="203.95" stroke="#222" stroke-width="0.75" />
<polygon points="363.10,190.09 363.73,191.10 364.92,191.14 364.36,192.19 364.92,193.24 363.73,193.29 363.10,194.29 362.47,193.29 361.28,193.24 361.84,192.19 361.28,191.14 362.47,191.10" fill="#5a5a5a" stroke="#6a6a6a" stroke-width="0.35"/>
<polygon points="368.00,190.09 368.63,191.10 369.82,191.14 369.26,192.19 369.82,193.24 368.63,193.29 368.00,194.29 367.37,193.29 366.18,193.24 366.74,192.19 366.18,191.14 367.37,191.10" fill="#5a5a5a" stroke="#6a6a6a" stroke-width="0.35"/>
<line x1="272.90" y1="157.10" x2="272.90" y2="258.00" stroke="#1a1a1a" stroke-width="1.3" />
<line x1="269.10" y1="257.40" x2="373.90" y2="257.40" stroke="#1a1a1a" stroke-width="1.3" />
<line x1="269.10" y1="257.40" x2="272.90" y2="257.40" stroke="#1a1a1a" stroke-width="1.3" />
<text x="267.4" y="260.4" font-size="10.8" text-anchor="end" textLength="12.9" lengthAdjust="spacingAndGlyphs" fill="#1a1a1a" >0.0</text>
<line x1="269.10" y1="240.75" x2="272.90" y2="240.75" stroke="#1a1a1a" stroke-width="1.3" />
<text x="267.4" y="243.74999999999997" font-size="10.8" text-anchor="end" textLength="12.9" lengthAdjust="spacingAndGlyphs" fill="#1a1a1a" >0.2</text>
<line x1="269.10" y1="224.10" x2="272.90" y2="224.10" stroke="#1a1a1a" stroke-width="1.3" />
<text x="267.4" y="227.09999999999997" font-size="10.8" text-anchor="end" textLength="12.9" lengthAdjust="spacingAndGlyphs" fill="#1a1a1a" >0.4</text>
<line x1="269.10" y1="207.45" x2="272.90" y2="207.45" stroke="#1a1a1a" stroke-width="1.3" />
<text x="267.4" y="210.44999999999996" font-size="10.8" text-anchor="end" textLength="12.9" lengthAdjust="spacingAndGlyphs" fill="#1a1a1a" >0.6</text>
<line x1="269.10" y1="190.80" x2="272.90" y2="190.80" stroke="#1a1a1a" stroke-width="1.3" />
<text x="267.4" y="193.79999999999995" font-size="10.8" text-anchor="end" textLength="12.9" lengthAdjust="spacingAndGlyphs" fill="#1a1a1a" >0.8</text>
<line x1="269.10" y1="174.15" x2="272.90" y2="174.15" stroke="#1a1a1a" stroke-width="1.3" />
<text x="267.4" y="177.14999999999998" font-size="10.8" text-anchor="end" textLength="11.4" lengthAdjust="spacingAndGlyphs" fill="#1a1a1a" >1.0</text>
<line x1="269.10" y1="157.50" x2="272.90" y2="157.50" stroke="#1a1a1a" stroke-width="1.3" />
<text x="267.4" y="160.49999999999994" font-size="10.8" text-anchor="end" textLength="11.4" lengthAdjust="spacingAndGlyphs" fill="#1a1a1a" >1.2</text>
<line x1="296.70" y1="257.40" x2="296.70" y2="261.20" stroke="#1a1a1a" stroke-width="1.2" />
<line x1="348.90" y1="257.40" x2="348.90" y2="261.20" stroke="#1a1a1a" stroke-width="1.2" />
<text x="298.7" y="271.9" font-size="10.8" text-anchor="middle" textLength="22.8" lengthAdjust="spacingAndGlyphs" fill="#1a1a1a" >FaDu</text>
<text x="349.5" y="271.9" font-size="10.8" text-anchor="middle" textLength="46.5" lengthAdjust="spacingAndGlyphs" fill="#1a1a1a" >Detroit 562</text>
<rect x="276.20" y="151.80" width="5.60" height="5.50" fill="#234858" />
<text x="284.0" y="157.79999999999998" font-size="10.8" text-anchor="start" textLength="34" lengthAdjust="spacingAndGlyphs" fill="#1a1a1a" >0 μg/mL</text>
<rect x="334.20" y="151.80" width="5.60" height="5.50" fill="#267873" />
<text x="342.0" y="157.79999999999998" font-size="10.8" text-anchor="start" textLength="34" lengthAdjust="spacingAndGlyphs" fill="#1a1a1a" >3 μg/mL</text>
<rect x="276.20" y="161.80" width="5.60" height="5.50" fill="#28a08c" />
<text x="284.0" y="167.79999999999998" font-size="10.8" text-anchor="start" textLength="34" lengthAdjust="spacingAndGlyphs" fill="#1a1a1a" >6 μg/mL</text>
<rect x="334.20" y="161.80" width="5.60" height="5.50" fill="#87b47d" />
<text x="342.0" y="167.79999999999998" font-size="10.8" text-anchor="start" textLength="34" lengthAdjust="spacingAndGlyphs" fill="#1a1a1a" >9 μg/mL</text>
<text transform="translate(237.50,248.20) rotate(-90)" font-size="10" textLength="85" lengthAdjust="spacingAndGlyphs" fill="#1a1a1a">Relative protein level</text>
<text transform="translate(249.90,245.20) rotate(-90)" font-size="10" fill="#1a1a1a"><tspan font-size="8" dy="-0.6">(</tspan><tspan dx="2.0" dy="0.6">MMP-2/GAPDH</tspan><tspan dx="2.0" font-size="8" dy="-0.6">)</tspan></text>
<rect x="448.60" y="174.15" width="7.30" height="83.25" fill="#234858" />
<line x1="452.25" y1="172.82" x2="452.25" y2="175.48" stroke="#222" stroke-width="0.75" />
<line x1="450.95" y1="172.82" x2="453.55" y2="172.82" stroke="#222" stroke-width="0.75" />
<line x1="450.95" y1="175.48" x2="453.55" y2="175.48" stroke="#222" stroke-width="0.75" />
<rect x="459.60" y="190.80" width="7.30" height="66.60" fill="#267873" />
<line x1="463.25" y1="188.64" x2="463.25" y2="192.96" stroke="#222" stroke-width="0.75" />
<line x1="461.95" y1="188.64" x2="464.55" y2="188.64" stroke="#222" stroke-width="0.75" />
<line x1="461.95" y1="192.96" x2="464.55" y2="192.96" stroke="#222" stroke-width="0.75" />
<polygon points="462.95,182.44 463.58,183.44 464.77,183.49 464.21,184.54 464.77,185.59 463.58,185.63 462.95,186.64 462.32,185.63 461.13,185.59 461.69,184.54 461.13,183.49 462.32,183.44" fill="#5a5a5a" stroke="#6a6a6a" stroke-width="0.35"/>
<rect x="470.60" y="202.79" width="7.30" height="54.61" fill="#28a08c" />
<line x1="474.25" y1="201.37" x2="474.25" y2="204.20" stroke="#222" stroke-width="0.75" />
<line x1="472.95" y1="201.37" x2="475.55" y2="201.37" stroke="#222" stroke-width="0.75" />
<line x1="472.95" y1="204.20" x2="475.55" y2="204.20" stroke="#222" stroke-width="0.75" />
<polygon points="471.50,195.17 472.13,196.18 473.32,196.22 472.76,197.27 473.32,198.32 472.13,198.36 471.50,199.37 470.87,198.36 469.68,198.32 470.24,197.27 469.68,196.22 470.87,196.18" fill="#5a5a5a" stroke="#6a6a6a" stroke-width="0.35"/>
<polygon points="476.40,195.17 477.03,196.18 478.22,196.22 477.66,197.27 478.22,198.32 477.03,198.36 476.40,199.37 475.77,198.36 474.58,198.32 475.14,197.27 474.58,196.22 475.77,196.18" fill="#5a5a5a" stroke="#6a6a6a" stroke-width="0.35"/>
<rect x="481.60" y="209.95" width="7.30" height="47.45" fill="#87b47d" />
<line x1="485.25" y1="207.20" x2="485.25" y2="212.69" stroke="#222" stroke-width="0.75" />
<line x1="483.95" y1="207.20" x2="486.55" y2="207.20" stroke="#222" stroke-width="0.75" />
<line x1="483.95" y1="212.69" x2="486.55" y2="212.69" stroke="#222" stroke-width="0.75" />
<polygon points="482.50,201.00 483.13,202.01 484.32,202.05 483.76,203.10 484.32,204.15 483.13,204.19 482.50,205.20 481.87,204.19 480.68,204.15 481.24,203.10 480.68,202.05 481.87,202.01" fill="#5a5a5a" stroke="#6a6a6a" stroke-width="0.35"/>
<polygon points="487.40,201.00 488.03,202.01 489.22,202.05 488.66,203.10 489.22,204.15 488.03,204.19 487.40,205.20 486.77,204.19 485.58,204.15 486.14,203.10 485.58,202.05 486.77,202.01" fill="#5a5a5a" stroke="#6a6a6a" stroke-width="0.35"/>
<rect x="500.80" y="174.15" width="7.30" height="83.25" fill="#234858" />
<line x1="504.45" y1="170.82" x2="504.45" y2="177.48" stroke="#222" stroke-width="0.75" />
<line x1="503.15" y1="170.82" x2="505.75" y2="170.82" stroke="#222" stroke-width="0.75" />
<line x1="503.15" y1="177.48" x2="505.75" y2="177.48" stroke="#222" stroke-width="0.75" />
<rect x="511.80" y="186.39" width="7.30" height="71.01" fill="#267873" />
<line x1="515.45" y1="184.22" x2="515.45" y2="188.55" stroke="#222" stroke-width="0.75" />
<line x1="514.15" y1="184.22" x2="516.75" y2="184.22" stroke="#222" stroke-width="0.75" />
<line x1="514.15" y1="188.55" x2="516.75" y2="188.55" stroke="#222" stroke-width="0.75" />
<polygon points="515.15,178.02 515.78,179.03 516.97,179.07 516.41,180.12 516.97,181.17 515.78,181.21 515.15,182.22 514.52,181.21 513.33,181.17 513.89,180.12 513.33,179.07 514.52,179.03" fill="#5a5a5a" stroke="#6a6a6a" stroke-width="0.35"/>
<rect x="522.80" y="199.54" width="7.30" height="57.86" fill="#28a08c" />
<line x1="526.45" y1="196.21" x2="526.45" y2="202.87" stroke="#222" stroke-width="0.75" />
<line x1="525.15" y1="196.21" x2="527.75" y2="196.21" stroke="#222" stroke-width="0.75" />
<line x1="525.15" y1="202.87" x2="527.75" y2="202.87" stroke="#222" stroke-width="0.75" />
<polygon points="523.70,190.01 524.33,191.02 525.52,191.06 524.96,192.11 525.52,193.16 524.33,193.20 523.70,194.21 523.07,193.20 521.88,193.16 522.44,192.11 521.88,191.06 523.07,191.02" fill="#5a5a5a" stroke="#6a6a6a" stroke-width="0.35"/>
<polygon points="528.60,190.01 529.23,191.02 530.42,191.06 529.86,192.11 530.42,193.16 529.23,193.20 528.60,194.21 527.97,193.20 526.78,193.16 527.34,192.11 526.78,191.06 527.97,191.02" fill="#5a5a5a" stroke="#6a6a6a" stroke-width="0.35"/>
<rect x="533.80" y="216.27" width="7.30" height="41.13" fill="#87b47d" />
<line x1="537.45" y1="213.36" x2="537.45" y2="219.19" stroke="#222" stroke-width="0.75" />
<line x1="536.15" y1="213.36" x2="538.75" y2="213.36" stroke="#222" stroke-width="0.75" />
<line x1="536.15" y1="219.19" x2="538.75" y2="219.19" stroke="#222" stroke-width="0.75" />
<polygon points="534.70,207.16 535.33,208.17 536.52,208.21 535.96,209.26 536.52,210.31 535.33,210.35 534.70,211.36 534.07,210.35 532.88,210.31 533.44,209.26 532.88,208.21 534.07,208.17" fill="#5a5a5a" stroke="#6a6a6a" stroke-width="0.35"/>
<polygon points="539.60,207.16 540.23,208.17 541.42,208.21 540.86,209.26 541.42,210.31 540.23,210.35 539.60,211.36 538.97,210.35 537.78,210.31 538.34,209.26 537.78,208.21 538.97,208.17" fill="#5a5a5a" stroke="#6a6a6a" stroke-width="0.35"/>
<line x1="444.50" y1="157.10" x2="444.50" y2="258.00" stroke="#1a1a1a" stroke-width="1.3" />
<line x1="440.70" y1="257.40" x2="545.50" y2="257.40" stroke="#1a1a1a" stroke-width="1.3" />
<line x1="440.70" y1="257.40" x2="444.50" y2="257.40" stroke="#1a1a1a" stroke-width="1.3" />
<text x="439.0" y="260.4" font-size="10.8" text-anchor="end" textLength="12.9" lengthAdjust="spacingAndGlyphs" fill="#1a1a1a" >0.0</text>
<line x1="440.70" y1="240.75" x2="444.50" y2="240.75" stroke="#1a1a1a" stroke-width="1.3" />
<text x="439.0" y="243.74999999999997" font-size="10.8" text-anchor="end" textLength="12.9" lengthAdjust="spacingAndGlyphs" fill="#1a1a1a" >0.2</text>
<line x1="440.70" y1="224.10" x2="444.50" y2="224.10" stroke="#1a1a1a" stroke-width="1.3" />
<text x="439.0" y="227.09999999999997" font-size="10.8" text-anchor="end" textLength="12.9" lengthAdjust="spacingAndGlyphs" fill="#1a1a1a" >0.4</text>
<line x1="440.70" y1="207.45" x2="444.50" y2="207.45" stroke="#1a1a1a" stroke-width="1.3" />
<text x="439.0" y="210.44999999999996" font-size="10.8" text-anchor="end" textLength="12.9" lengthAdjust="spacingAndGlyphs" fill="#1a1a1a" >0.6</text>
<line x1="440.70" y1="190.80" x2="444.50" y2="190.80" stroke="#1a1a1a" stroke-width="1.3" />
<text x="439.0" y="193.79999999999995" font-size="10.8" text-anchor="end" textLength="12.9" lengthAdjust="spacingAndGlyphs" fill="#1a1a1a" >0.8</text>
<line x1="440.70" y1="174.15" x2="444.50" y2="174.15" stroke="#1a1a1a" stroke-width="1.3" />
<text x="439.0" y="177.14999999999998" font-size="10.8" text-anchor="end" textLength="11.4" lengthAdjust="spacingAndGlyphs" fill="#1a1a1a" >1.0</text>
<line x1="440.70" y1="157.50" x2="444.50" y2="157.50" stroke="#1a1a1a" stroke-width="1.3" />
<text x="439.0" y="160.49999999999994" font-size="10.8" text-anchor="end" textLength="11.4" lengthAdjust="spacingAndGlyphs" fill="#1a1a1a" >1.2</text>
<line x1="468.30" y1="257.40" x2="468.30" y2="261.20" stroke="#1a1a1a" stroke-width="1.2" />
<line x1="520.50" y1="257.40" x2="520.50" y2="261.20" stroke="#1a1a1a" stroke-width="1.2" />
<text x="470.3" y="271.9" font-size="10.8" text-anchor="middle" textLength="22.8" lengthAdjust="spacingAndGlyphs" fill="#1a1a1a" >FaDu</text>
<text x="521.1" y="271.9" font-size="10.8" text-anchor="middle" textLength="46.5" lengthAdjust="spacingAndGlyphs" fill="#1a1a1a" >Detroit 562</text>
<rect x="447.80" y="151.00" width="5.60" height="5.50" fill="#234858" />
<text x="455.6" y="156.99999999999997" font-size="10.8" text-anchor="start" textLength="34" lengthAdjust="spacingAndGlyphs" fill="#1a1a1a" >0 μg/mL</text>
<rect x="505.80" y="151.00" width="5.60" height="5.50" fill="#267873" />
<text x="513.6" y="156.99999999999997" font-size="10.8" text-anchor="start" textLength="34" lengthAdjust="spacingAndGlyphs" fill="#1a1a1a" >3 μg/mL</text>
<rect x="447.80" y="161.00" width="5.60" height="5.50" fill="#28a08c" />
<text x="455.6" y="166.99999999999997" font-size="10.8" text-anchor="start" textLength="34" lengthAdjust="spacingAndGlyphs" fill="#1a1a1a" >6 μg/mL</text>
<rect x="505.80" y="161.00" width="5.60" height="5.50" fill="#87b47d" />
<text x="513.6" y="166.99999999999997" font-size="10.8" text-anchor="start" textLength="34" lengthAdjust="spacingAndGlyphs" fill="#1a1a1a" >9 μg/mL</text>
<text transform="translate(409.10,248.20) rotate(-90)" font-size="10" textLength="85" lengthAdjust="spacingAndGlyphs" fill="#1a1a1a">Relative protein level</text>
<text transform="translate(421.50,245.50) rotate(-90)" font-size="10" fill="#1a1a1a"><tspan font-size="8" dy="-0.6">(</tspan><tspan dx="2.0" dy="0.6">MMP-9/GAPDH</tspan><tspan dx="2.0" font-size="8" dy="-0.6">)</tspan></text>
</svg></body></html>
